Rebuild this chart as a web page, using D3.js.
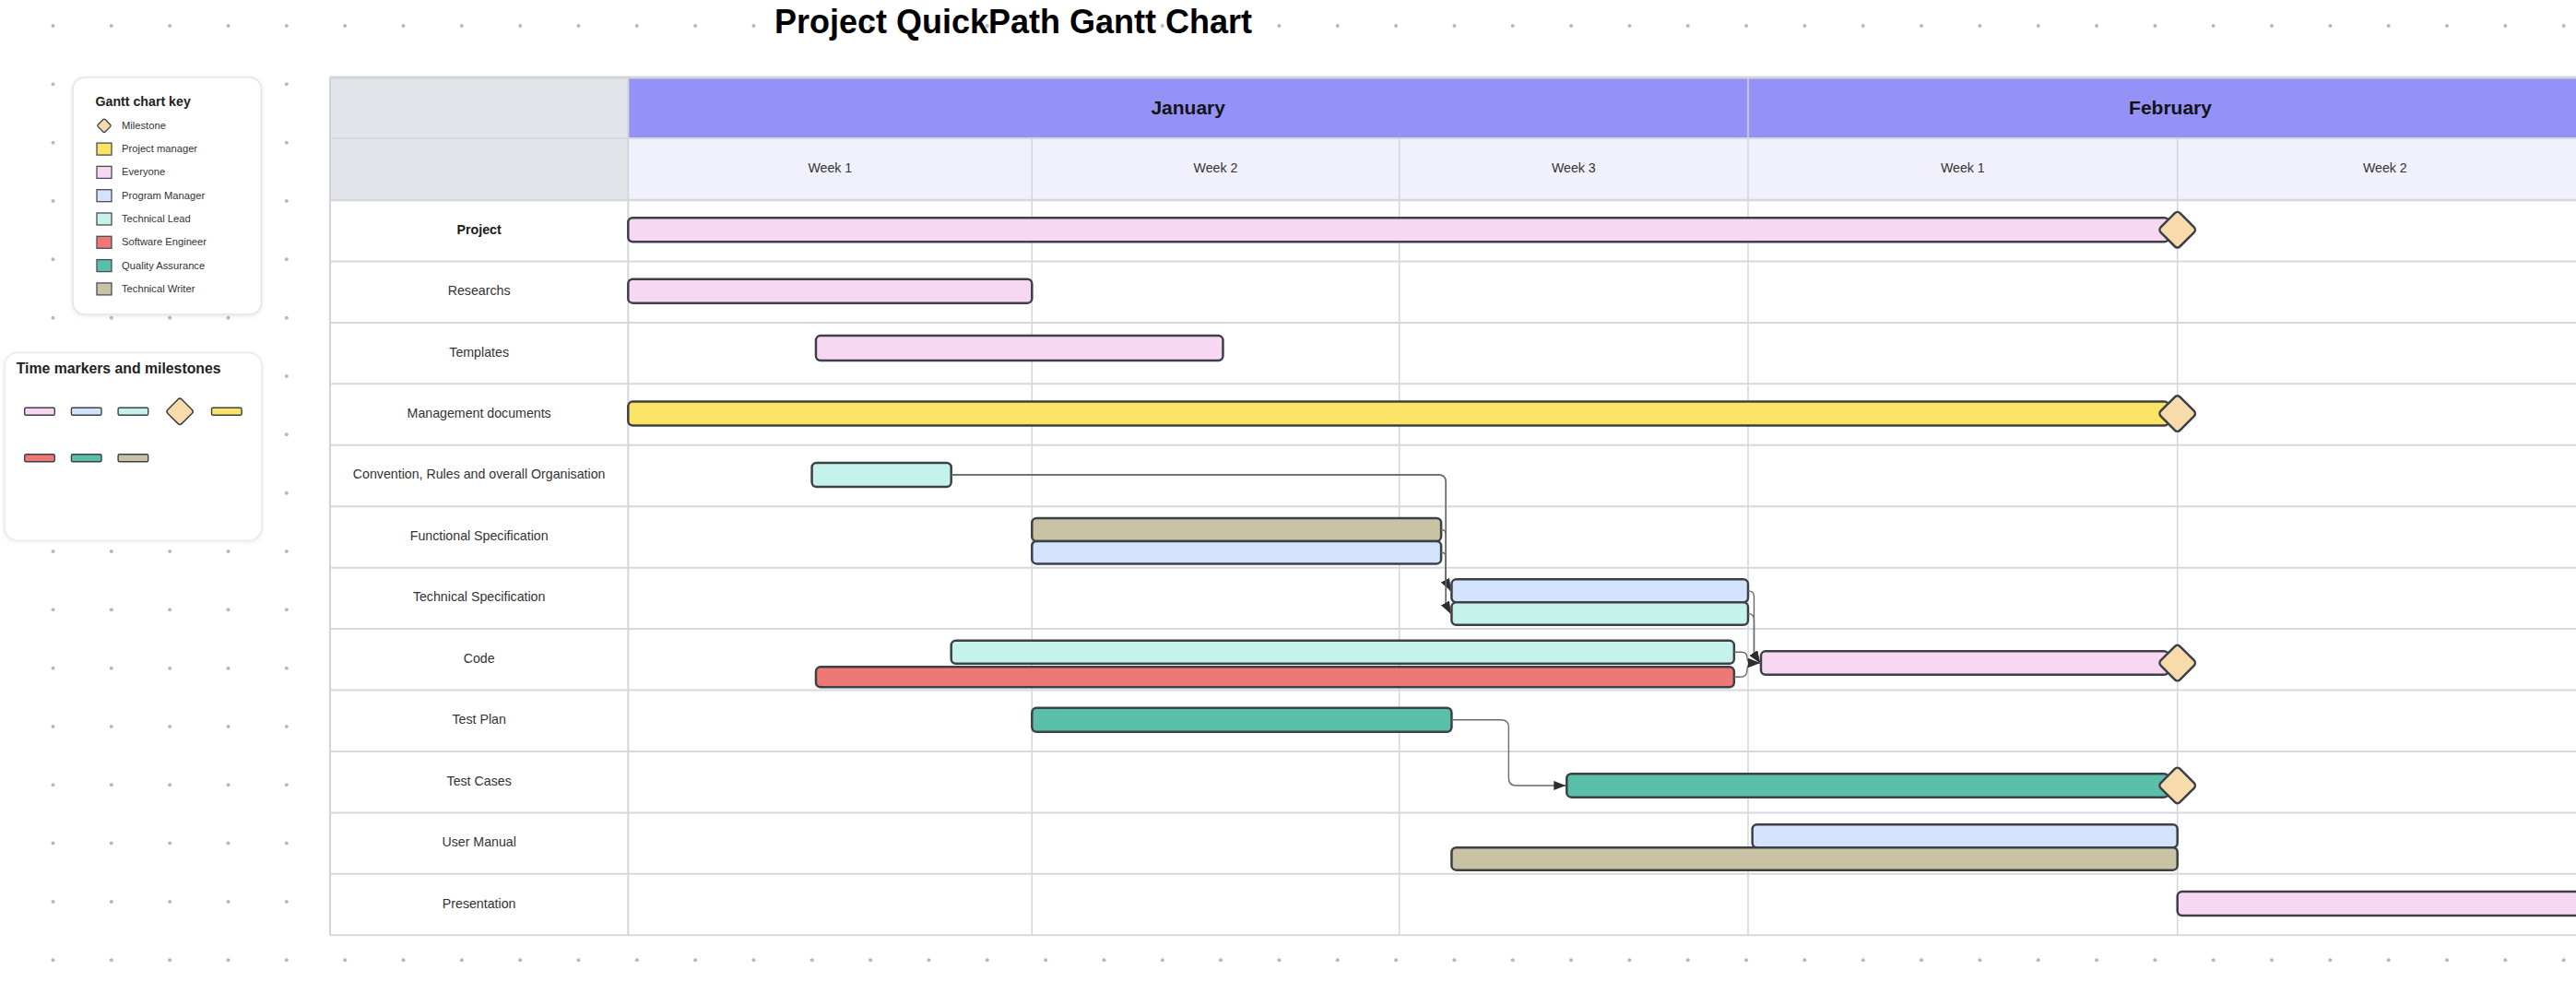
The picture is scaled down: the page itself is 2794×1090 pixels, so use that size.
<!DOCTYPE html>
<html><head><meta charset="utf-8">
<script src="https://cdn.jsdelivr.net/npm/d3@7"></script>
<style>html,body{margin:0;padding:0;background:#fff;overflow:hidden}</style>
</head><body><svg id="c" width="2794" height="1090"></svg>
<script>
// ---------------- DATA ----------------
const chartTitle = "Project QuickPath Gantt Chart";
const months = ["January", "February"];
const weekLabels = ["Week 1", "Week 2", "Week 3", "Week 1", "Week 2"];
const weekMonth = [0, 0, 0, 1, 1];
const tasks = ["Project", "Researchs", "Templates", "Management documents",
  "Convention, Rules and overall Organisation", "Functional Specification",
  "Technical Specification", "Code", "Test Plan", "Test Cases", "User Manual", "Presentation"];
const boldTasks = ["Project"];
const roles = ["Milestone", "Project manager", "Everyone", "Program Manager", "Technical Lead",
  "Software Engineer", "Quality Assurance", "Technical Writer"];
const markerOrder = ["Everyone", "Program Manager", "Technical Lead", "Milestone", "Project manager",
  "Software Engineer", "Quality Assurance", "Technical Writer"];
// start / end in weeks from the beginning of January week 1
const bars = [
  {id: "proj", task: "Project", role: "Everyone", start: 0, end: 4, lane: "mid"},
  {id: "res", task: "Researchs", role: "Everyone", start: 0, end: 1, lane: "mid"},
  {id: "tpl", task: "Templates", role: "Everyone", start: 0.465, end: 1.52, lane: "high"},
  {id: "mgmt", task: "Management documents", role: "Project manager", start: 0, end: 4, lane: "mid"},
  {id: "conv", task: "Convention, Rules and overall Organisation", role: "Technical Lead", start: 0.455, end: 0.80, lane: "mid"},
  {id: "fsTW", task: "Functional Specification", role: "Technical Writer", start: 1.0, end: 2.12, lane: "upper"},
  {id: "fsPM", task: "Functional Specification", role: "Program Manager", start: 1.0, end: 2.12, lane: "lower"},
  {id: "tsPM", task: "Technical Specification", role: "Program Manager", start: 2.15, end: 3.0, lane: "upper"},
  {id: "tsTL", task: "Technical Specification", role: "Technical Lead", start: 2.15, end: 3.0, lane: "lower"},
  {id: "cdTL", task: "Code", role: "Technical Lead", start: 0.80, end: 2.96, lane: "upper"},
  {id: "cdSE", task: "Code", role: "Software Engineer", start: 0.465, end: 2.96, lane: "bottom"},
  {id: "cdEV", task: "Code", role: "Everyone", start: 3.03, end: 4, lane: "low"},
  {id: "tp", task: "Test Plan", role: "Quality Assurance", start: 1.0, end: 2.15, lane: "mid"},
  {id: "tc", task: "Test Cases", role: "Quality Assurance", start: 2.48, end: 4, lane: "low"},
  {id: "umPM", task: "User Manual", role: "Program Manager", start: 3.01, end: 4.0, lane: "upper"},
  {id: "umTW", task: "User Manual", role: "Technical Writer", start: 2.15, end: 4.0, lane: "lower"},
  {id: "pres", task: "Presentation", role: "Everyone", start: 4.0, end: 5.0, lane: "mid"}
];
const milestones = [
  {bar: "proj", at: 4}, {bar: "mgmt", at: 4}, {bar: "cdEV", at: 4}, {bar: "tc", at: 4}
];
const links = [
  ["conv", "tsPM"], ["conv", "tsTL"], ["fsTW", "tsPM"], ["fsPM", "tsTL"],
  ["tsPM", "cdEV"], ["tsTL", "cdEV"], ["cdTL", "cdEV"], ["cdSE", "cdEV"], ["tp", "tc"]
];

// ---------------- STYLE / LAYOUT ----------------
const FONT = "'Liberation Sans', Arial, Helvetica, sans-serif";
const roleFill = {
  "Milestone": "#f7dbab", "Project manager": "#fbe365", "Everyone": "#f7d7f2",
  "Program Manager": "#d3e3fb", "Technical Lead": "#c5f3ec", "Software Engineer": "#ee7874",
  "Quality Assurance": "#5abfa8", "Technical Writer": "#c9c2a5"
};
const laneBand = { // offsets from row centre [top, bottom]
  mid: [-14, 12], high: [-19, 8], low: [-9, 16.5],
  upper: [-20.5, 4.5], lower: [4.5, 29], bottom: [8, 30]
};
const T = {left: 358, labelRight: 681.3, top: 84, h1: 66, h2: 67, right: 2812, bodyTop: 217, bodyBottom: 1014.3};
const W = 2794, H = 1090;
const STROKE = "#3d4047";

const svg = d3.select("#c");
const defs = svg.append("defs");
const f = defs.append("filter").attr("id", "sh").attr("x", "-10%").attr("y", "-10%").attr("width", "120%").attr("height", "120%");
f.append("feDropShadow").attr("dx", 0).attr("dy", 1).attr("stdDeviation", 2).attr("flood-color", "#000").attr("flood-opacity", 0.10);
defs.append("marker").attr("id", "arr").attr("markerUnits", "userSpaceOnUse")
  .attr("markerWidth", 14).attr("markerHeight", 11).attr("refX", 13).attr("refY", 5).attr("orient", "auto")
  .append("path").attr("d", "M0,0 L13,5 L0,10 Z").attr("fill", "#2e2e2e");

// scales
const x = d3.scaleLinear().domain(d3.range(weekLabels.length + 1))
  .range([T.labelRight, 1119.3, 1517.7, 1896, 2361.7, T.right]);
const y = d3.scaleBand().domain(tasks).range([T.bodyTop, T.bodyBottom]).paddingInner(0).paddingOuter(0);
const rowC = t => y(t) + y.bandwidth() / 2;

// background dots
const dotG = svg.append("g");
const dx0 = 57.5, dsp = 63.33, dy0 = 28;
const dotCols = d3.range(Math.floor((W - dx0) / dsp) + 1);
const dotRows = d3.range(Math.floor((H - dy0) / dsp) + 1);
dotRows.forEach(r => dotCols.forEach(c => {
  dotG.append("circle").attr("cx", dx0 + c * dsp).attr("cy", dy0 + r * dsp).attr("r", 2).attr("fill", "#b8b8b8");
}));

// title
svg.append("text").attr("x", 1099).attr("y", 36).attr("text-anchor", "middle")
  .attr("font-family", FONT).attr("font-weight", "bold").attr("font-size", 36).attr("fill", "#000").text(chartTitle);

// ---------------- TABLE ----------------
const tg = svg.append("g");
tg.append("rect").attr("x", T.left).attr("y", T.top).attr("width", T.right - T.left).attr("height", T.bodyBottom - T.top).attr("fill", "#fff");
tg.append("rect").attr("x", T.left).attr("y", T.top).attr("width", T.labelRight - T.left).attr("height", T.bodyTop - T.top).attr("fill", "#e1e4e9");
// months
months.forEach((m, i) => {
  const idx = weekMonth.map((w, k) => w === i ? k : -1).filter(k => k >= 0);
  const x0 = x(idx[0]), x1 = x(idx[idx.length - 1] + 1);
  tg.append("rect").attr("x", x0).attr("y", T.top).attr("width", x1 - x0).attr("height", T.h1).attr("fill", "#9491f7");
  tg.append("text").attr("x", (x0 + x1) / 2).attr("y", T.top + T.h1 / 2).attr("dy", "0.35em").attr("text-anchor", "middle")
    .attr("font-family", FONT).attr("font-weight", "bold").attr("font-size", 21).attr("fill", "#141414").text(m);
  if (i > 0) tg.append("line").attr("x1", x0).attr("x2", x0).attr("y1", T.top).attr("y2", T.top + T.h1).attr("stroke", "#cfd0e4").attr("stroke-width", 1.5);
});
weekLabels.forEach((w, i) => {
  tg.append("rect").attr("x", x(i)).attr("y", T.top + T.h1).attr("width", x(i + 1) - x(i)).attr("height", T.h2).attr("fill", "#f1f1fd");
  tg.append("text").attr("x", (x(i) + x(i + 1)) / 2).attr("y", T.top + T.h1 + T.h2 / 2 - 1.5).attr("dy", "0.35em").attr("text-anchor", "middle")
    .attr("font-family", FONT).attr("font-size", 14.2).attr("fill", "#333").text(w);
});
// grid lines
d3.range(1, weekLabels.length + 1).forEach(i => {
  tg.append("line").attr("x1", x(i)).attr("x2", x(i)).attr("y1", T.top + T.h1).attr("y2", T.bodyBottom).attr("stroke", "#d3d6dc").attr("stroke-width", 1.5);
});
tg.append("line").attr("x1", T.labelRight).attr("x2", T.labelRight).attr("y1", T.top).attr("y2", T.bodyBottom).attr("stroke", "#d3d6dc").attr("stroke-width", 2);
tg.append("line").attr("x1", T.left).attr("x2", T.left).attr("y1", T.top).attr("y2", T.bodyBottom).attr("stroke", "#d0d3d9").attr("stroke-width", 2);
tg.append("line").attr("x1", T.left).attr("x2", T.right).attr("y1", T.top + T.h1).attr("y2", T.top + T.h1).attr("stroke", "#d6d8e0").attr("stroke-width", 2);
tg.append("line").attr("x1", T.left).attr("x2", T.right).attr("y1", T.top).attr("y2", T.top).attr("stroke", "#d2d3d6").attr("stroke-width", 3);
tasks.forEach((t, i) => {
  tg.append("line").attr("x1", T.left).attr("x2", T.right).attr("y1", y(t)).attr("y2", y(t)).attr("stroke", "#d5d8de").attr("stroke-width", i === 0 ? 2.5 : 2);
  tg.append("text").attr("x", (T.left + T.labelRight) / 2).attr("y", rowC(t) - 1.5).attr("dy", "0.35em").attr("text-anchor", "middle")
    .attr("font-family", FONT).attr("font-size", 14.2).attr("font-weight", boldTasks.includes(t) ? "bold" : "normal")
    .attr("fill", boldTasks.includes(t) ? "#1a1a1a" : "#333").text(t);
});
tg.append("line").attr("x1", T.left).attr("x2", T.right).attr("y1", T.bodyBottom).attr("y2", T.bodyBottom).attr("stroke", "#d5d8de").attr("stroke-width", 2);

// ---------------- BARS ----------------
const MS = 29.5; // diamond side
const msHalf = MS / 2 * Math.SQRT2 - 4 * (Math.SQRT2 - 1);
const barById = Object.fromEntries(bars.map(b => [b.id, b]));
const hasMs = id => milestones.some(m => m.bar === id);
const bTop = b => rowC(b.task) + laneBand[b.lane][0];
const bBot = b => rowC(b.task) + laneBand[b.lane][1];
const bMid = b => (bTop(b) + bBot(b)) / 2;
const bX0 = b => x(b.start);
const bX1 = b => hasMs(b.id) ? x(b.end) - (msHalf - (bBot(b) - bTop(b)) / 2) - 3 : x(b.end);

const bg = svg.append("g");
bg.selectAll("rect").data(bars).join("rect")
  .attr("x", bX0).attr("y", bTop).attr("width", b => bX1(b) - bX0(b)).attr("height", b => bBot(b) - bTop(b))
  .attr("rx", 5).attr("fill", b => roleFill[b.role]).attr("stroke", STROKE).attr("stroke-width", 2.5);

// links
const lg = svg.append("g");
links.forEach(([fa, fb]) => {
  const a = barById[fa], b = barById[fb];
  const x0 = bX1(a), y0 = bMid(a), x1 = bX0(b) - 1, y1 = bMid(b);
  let xv = (x0 + x1) / 2;
  const yMin = Math.min(y0, y1), yMax = Math.max(y0, y1);
  const blockers = bars.filter(c => c !== a && c !== b && bX0(c) <= xv && bX1(c) >= xv && bTop(c) < yMax && bBot(c) > yMin);
  if (blockers.length) { const m = d3.max(blockers, bX1); xv = m + (x1 - m) / 2; }
  const sy = y1 > y0 ? 1 : -1;
  const dyv = Math.abs(y1 - y0);
  const r = Math.max(0, Math.min(8, xv - x0, dyv / 2));
  let d = `M${x0},${y0} H${xv - r} Q${xv},${y0} ${xv},${y0 + sy * r}`;
  if (x1 - xv < 12) {
    d += ` V${y1 - sy * 10} L${x1},${y1}`;
  } else {
    const r2 = Math.min(8, dyv / 2);
    d += ` V${y1 - sy * r2} Q${xv},${y1} ${xv + r2},${y1} H${x1}`;
  }
  lg.append("path").attr("d", d).attr("fill", "none").attr("stroke", "#6a6a6a").attr("stroke-width", 1.4).attr("marker-end", "url(#arr)");
});

// milestones
const diamond = (g, cx, cy, side, rx, sw) => g.append("rect")
  .attr("x", -side / 2).attr("y", -side / 2).attr("width", side).attr("height", side).attr("rx", rx)
  .attr("transform", `translate(${cx},${cy}) rotate(45)`)
  .attr("fill", roleFill["Milestone"]).attr("stroke", STROKE).attr("stroke-width", sw);
const mg = svg.append("g");
milestones.forEach(m => diamond(mg, x(m.at), bMid(barById[m.bar]), MS, 4, 2.5));

// ---------------- LEGENDS ----------------
const L1 = svg.append("g");
L1.append("rect").attr("x", 79).attr("y", 84).attr("width", 204.5).attr("height", 257).attr("rx", 13)
  .attr("fill", "#fff").attr("stroke", "#e3e3e6").attr("stroke-width", 1.5).attr("filter", "url(#sh)");
L1.append("text").attr("x", 103.5).attr("y", 115).attr("font-family", FONT).attr("font-weight", "bold").attr("font-size", 14.2).attr("fill", "#222").text("Gantt chart key");
roles.forEach((r, i) => {
  const cy = 136.3 + i * 25.3;
  if (r === "Milestone") diamond(L1, 113, cy, 11, 1.5, 1.3);
  else L1.append("rect").attr("x", 105).attr("y", cy - 6.5).attr("width", 16).attr("height", 13)
    .attr("fill", roleFill[r]).attr("stroke", "#4a4d54").attr("stroke-width", 1.3);
  L1.append("text").attr("x", 132).attr("y", cy - 0.5).attr("dy", "0.35em").attr("font-family", FONT).attr("font-size", 11.2).attr("fill", "#333").text(r);
});

const L2 = svg.append("g");
L2.append("rect").attr("x", 5).attr("y", 382.7).attr("width", 279).attr("height", 203.3).attr("rx", 14)
  .attr("fill", "#fff").attr("stroke", "#e6e6e9").attr("stroke-width", 1.2).attr("filter", "url(#sh)");
L2.append("text").attr("x", 17.7).attr("y", 405.3).attr("font-family", FONT).attr("font-weight", "bold").attr("font-size", 15.8).attr("fill", "#222").text("Time markers and milestones");
markerOrder.forEach((r, i) => {
  const cx = 43 + (i % 5) * 50.7, cy = 446.3 + Math.floor(i / 5) * 50.4;
  if (r === "Milestone") diamond(L2, cx, cy, 21.5, 3, 1.5);
  else L2.append("rect").attr("x", cx - 16.3).attr("y", cy - 4).attr("width", 32.6).attr("height", 8).attr("rx", 1.5)
    .attr("fill", roleFill[r]).attr("stroke", "#3d4047").attr("stroke-width", 1.4);
});
</script></body></html>
